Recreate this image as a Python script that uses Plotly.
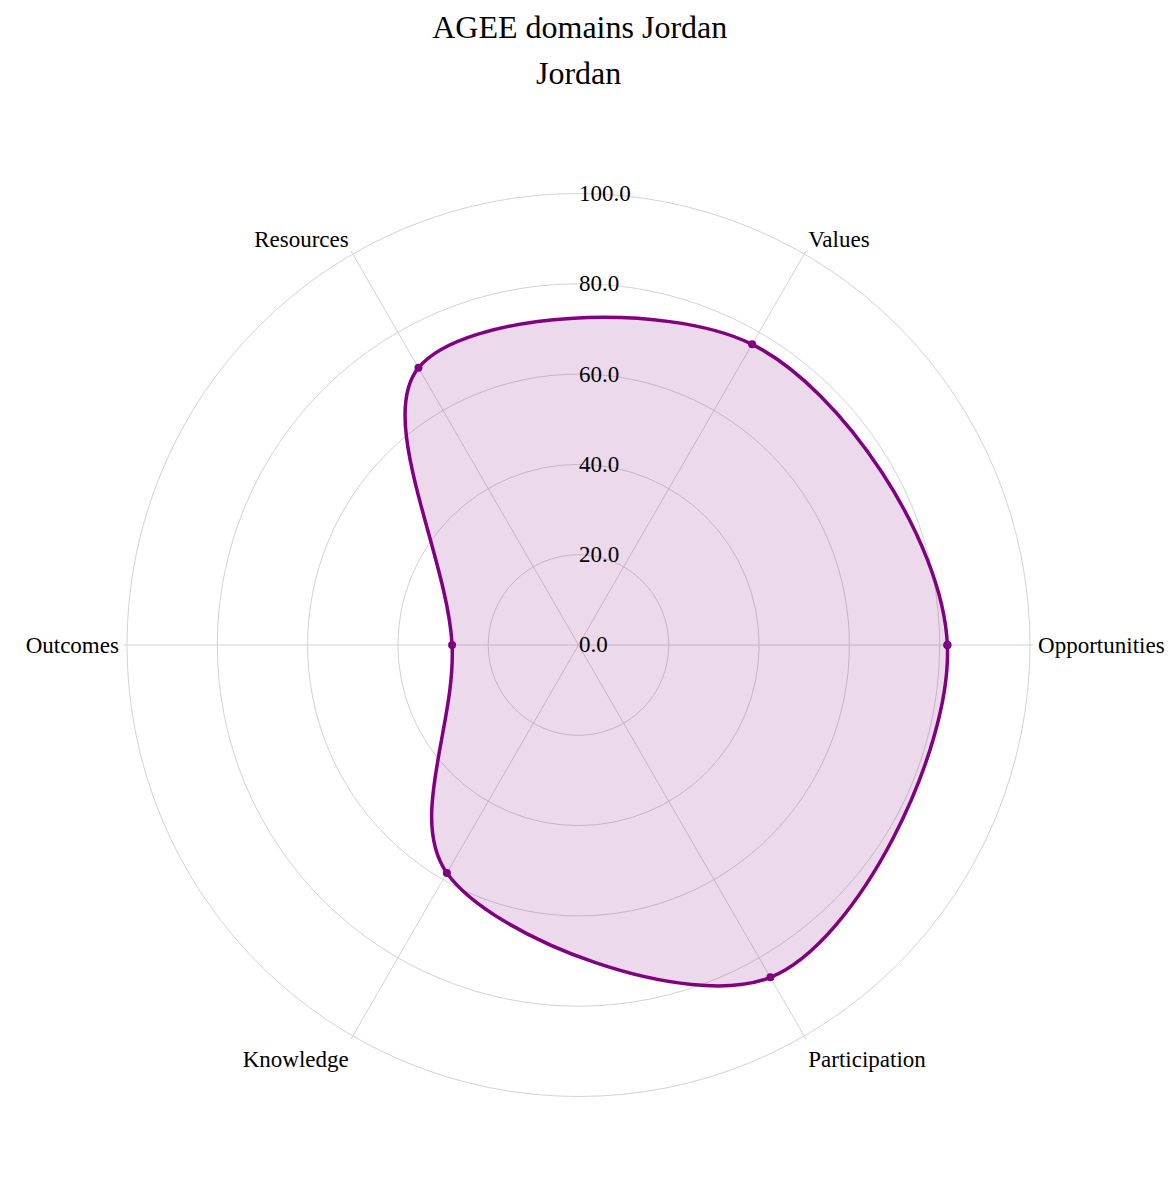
import plotly.graph_objects as go

categories = ["Opportunities", "Values", "Resources", "Outcomes", "Knowledge", "Participation"]
values = [81.7, 76.9, 70.9, 28.0, 58.3, 85.0]
radial_ticks = [0, 20, 40, 60, 80, 100]

theta = categories + [categories[0]]
r = values + [values[0]]

FONT = "Times New Roman, Liberation Serif, serif"

fig = go.Figure()
fig.add_trace(go.Scatterpolar(
    r=r, theta=theta,
    mode="lines+markers",
    line=dict(color="purple", width=3.5, shape="spline", smoothing=1.0),
    marker=dict(color="purple", size=8),
    fill="toself",
    fillcolor="rgba(128,0,128,0.15)",
    name="Jordan",
    showlegend=False,
))

fig.update_layout(
    width=1174, height=1177,
    paper_bgcolor="white",
    font=dict(family=FONT, size=22, color="black"),
    title=dict(
        text="AGEE domains Jordan",
        x=0.487, xanchor="center", y=0.984, yanchor="middle",
        font=dict(family=FONT, size=32, color="black"),
    ),
    annotations=[dict(
        text="Jordan", xref="paper", yref="paper", x=0.5, y=1.133,
        xanchor="center", yanchor="middle", showarrow=False,
        font=dict(family=FONT, size=32, color="black"),
    )],
    margin=dict(l=119, r=152, t=185, b=88),
    polar=dict(
        bgcolor="white",
        radialaxis=dict(
            range=[0, 100], tickvals=radial_ticks, tickformat=".1f",
            angle=90, tickangle=90, showline=False, ticks="",
            gridcolor="#d3d3d3", tickfont=dict(family=FONT, size=23, color="black"),
        ),
        angularaxis=dict(
            rotation=0, direction="counterclockwise",
            gridcolor="#d3d3d3", linecolor="#d3d3d3",
            ticks="outside", ticklen=3, tickcolor="#d3d3d3",
            tickfont=dict(family=FONT, size=23, color="black"),
        ),
    ),
)

fig.write_html("out.html")
